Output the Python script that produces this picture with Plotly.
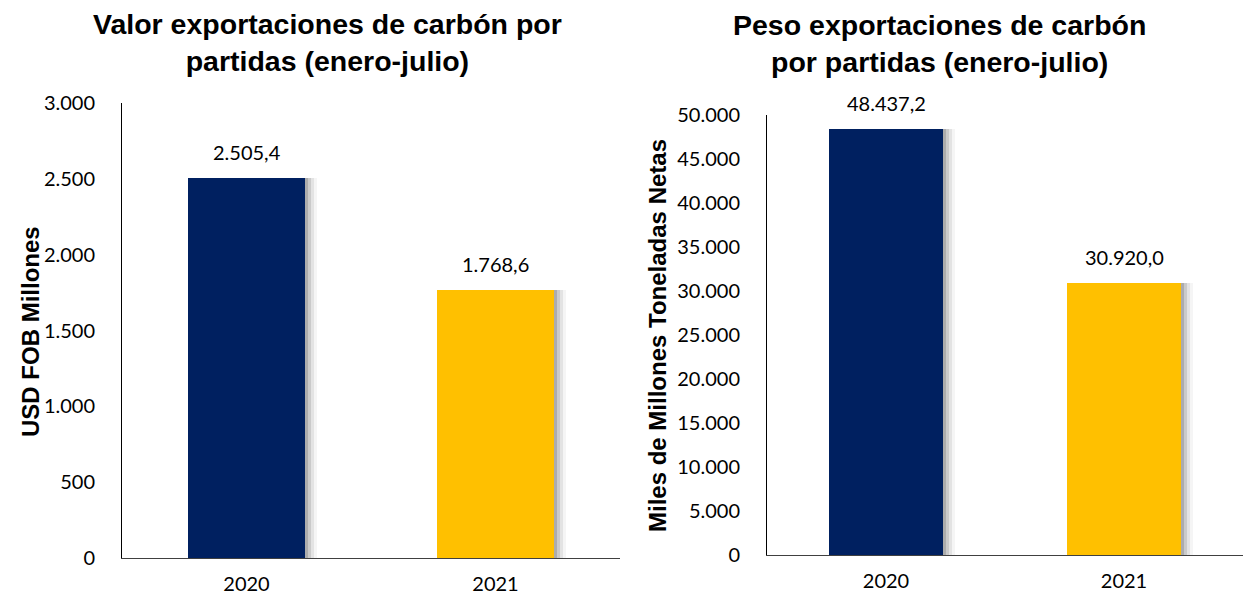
import plotly.graph_objects as go

years = ["2020", "2021"]
valor_usd = [2505.4, 1768.6]
peso_ton = [48437.2, 30920.0]
bar_colors = ["#002060", "#FFC000"]
y1_ticks = [0, 500, 1000, 1500, 2000, 2500, 3000]
y2_ticks = [0, 5000, 10000, 15000, 20000, 25000, 30000, 35000, 40000, 45000, 50000]

W, H = 1243, 598


def fmt(v, dec=1):
    s = f"{v:,.{dec}f}"
    return s.replace(",", "X").replace(".", ",").replace("X", ".")


fig = go.Figure()

TICKFONT = dict(family="Lato, Open Sans, sans-serif", size=20, color="#000000")
BOLD = dict(family="Liberation Sans, Arial, sans-serif", size=28.5, color="#000000")


def add_panel(vals, xa, ya, width, px_per_cat):
    # soft shadow layers
    for k, a in [(3, 0.15), (6, 0.11), (9, 0.07), (12, 0.04)]:
        fig.add_trace(go.Bar(
            x=years, y=vals, width=width, offset=-width / 2 + k / px_per_cat,
            marker=dict(color=f"rgba(0,0,0,{a})", line=dict(width=0)),
            xaxis=xa, yaxis=ya, hoverinfo="skip", showlegend=False))
    fig.add_trace(go.Bar(
        x=years, y=vals, width=width, offset=-width / 2,
        marker=dict(color=bar_colors, line=dict(width=0)),
        xaxis=xa, yaxis=ya, showlegend=False))
    for i, v in enumerate(vals):
        fig.add_annotation(x=i, y=v, xref=xa, yref=ya, text=fmt(v),
                           showarrow=False, yanchor="bottom", yshift=12,
                           font=TICKFONT)


add_panel(valor_usd, "x", "y", 0.472, 250)
add_panel(peso_ton, "x2", "y2", 0.479, 238)


def py(p):
    return 1 - p / H


def px(p):
    return p / W


xcommon = dict(type="category", range=[-0.5, 1.5], showline=True, linecolor="#404040",
               linewidth=1, ticks="", showgrid=False, zeroline=False, automargin=False,
               tickfont=TICKFONT, ticklabelstandoff=8, fixedrange=True)
ycommon = dict(showline=True, linecolor="#000000", linewidth=1, ticks="",
               showgrid=False, zeroline=False, tickfont=TICKFONT, automargin=False,
               tickformat=",d", ticklabelstandoff=22)

fig.update_layout(
    width=W, height=H,
    margin=dict(l=0, r=0, t=0, b=0, autoexpand=False),
    paper_bgcolor="white", plot_bgcolor="white",
    barmode="overlay", bargap=0,
    separators=",.",
    xaxis=dict(domain=[px(122), px(620)], anchor="y", **xcommon),
    yaxis=dict(domain=[py(558), py(103)], anchor="x", range=[0, 3000],
               tickvals=y1_ticks, **ycommon),
    xaxis2=dict(domain=[px(767), 1.0], anchor="y2", **xcommon),
    yaxis2=dict(domain=[py(555), py(115)], anchor="x2", range=[0, 50000],
                tickvals=y2_ticks, **ycommon),
)

fig.add_annotation(x=px(327), y=py(43), xref="paper", yref="paper",
                   text="<b>Valor exportaciones de carbón por<br>partidas (enero-julio)</b>",
                   showarrow=False, font=BOLD, align="center",
                   xanchor="center", yanchor="middle")
fig.add_annotation(x=px(940), y=py(44), xref="paper", yref="paper",
                   text="<b>Peso exportaciones de carbón<br>por partidas (enero-julio)</b>",
                   showarrow=False, font=BOLD, align="center",
                   xanchor="center", yanchor="middle")
AX = dict(family="Liberation Sans, Arial, sans-serif", size=24, color="#000000")
fig.add_annotation(x=px(30), y=py(332), xref="paper", yref="paper",
                   text="<b>USD FOB Millones</b>", textangle=-90,
                   showarrow=False, font=AX, xanchor="center", yanchor="middle")
fig.add_annotation(x=px(657), y=py(336), xref="paper", yref="paper",
                   text="<b>Miles de Millones Toneladas Netas</b>", textangle=-90,
                   showarrow=False, font=AX, xanchor="center", yanchor="middle")

fig.write_html("out.html", config={"displayModeBar": False},
               post_script="document.body.style.margin='0px';document.body.style.overflow='hidden';")
